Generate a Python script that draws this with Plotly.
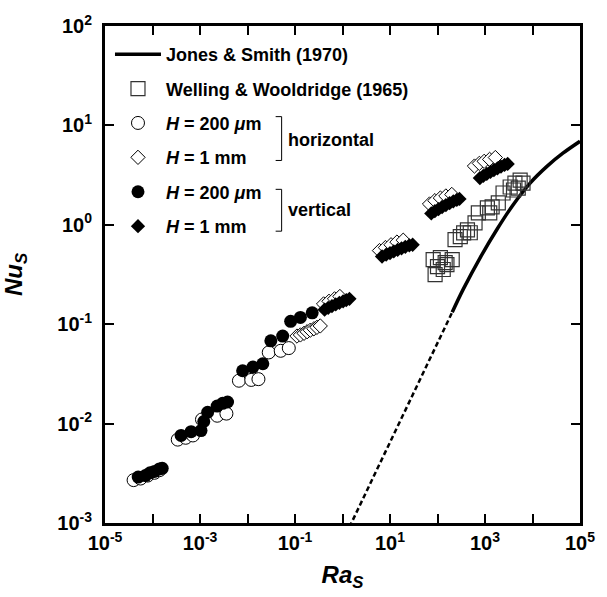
import plotly.graph_objects as go

# ---- data ----
# Jones & Smith (1970) correlation
js_ra = [204, 347, 794, 1820, 3890, 8913, 20417, 43652, 1e5]
js_nu = [0.132, 0.224, 0.468, 0.912, 1.585, 2.63, 3.89, 5.25, 6.92]
# dotted extrapolation of Jones & Smith
jsd_ra = [1.4, 204]
jsd_nu = [9.1e-4, 0.132]

# Welling & Wooldridge (1965)
ww_ra = [89, 81, 115, 145, 204, 132, 234, 302, 427, 490, 617, 724, 1122, 1413,
         1905, 2399, 3388, 4266, 5495, 6310, 5012, 158, 355, 1259, 3981, 100]
ww_nu = [0.316, 0.447, 0.468, 0.417, 0.447, 0.355, 0.708, 0.759, 0.891, 0.832,
         1.047, 1.318, 1.479, 1.514, 1.66, 2.09, 2.40, 2.63, 2.82, 2.63, 2.34,
         0.398, 0.83, 1.32, 2.24, 0.38]

# horizontal, H = 200 um (open circles)
h200_ra = [4.0e-5, 5.6e-5, 7.9e-5, 1.1e-4, 1.4e-4,
           3.4e-4, 5.0e-4, 7.1e-4, 1.1e-3, 2.3e-3, 3.6e-3,
           6.6e-3, 1.2e-2, 1.7e-2, 2.8e-2, 5.0e-2, 7.4e-2]
h200_nu = [2.7e-3, 2.8e-3, 3.0e-3, 3.2e-3, 3.4e-3,
           6.9e-3, 7.2e-3, 7.6e-3, 1.1e-2, 1.2e-2, 1.26e-2,
           2.7e-2, 2.75e-2, 2.8e-2, 5.2e-2, 5.4e-2, 5.75e-2]

# horizontal, H = 1 mm (open diamonds)
h1_ra = [0.11, 0.13, 0.155, 0.18, 0.21, 0.25, 0.29, 0.34,
         0.40, 0.52, 0.68, 0.88,
         6.0, 8.0, 10.5, 14, 19,
         68, 88, 115, 150, 200,
         600, 760, 960, 1250, 1650]
h1_nu = [0.076, 0.078, 0.081, 0.084, 0.087, 0.090, 0.093, 0.096,
         0.160, 0.170, 0.180, 0.190,
         0.55, 0.59, 0.63, 0.67, 0.70,
         1.62, 1.75, 1.86, 1.95, 2.02,
         3.9, 4.15, 4.35, 4.55, 4.75]

# vertical, H = 200 um (filled circles)
v200_ra = [5.0e-5, 7.1e-5, 8.9e-5, 1.1e-4, 1.4e-4, 1.6e-4,
           4.0e-4, 6.5e-4, 1.05e-3, 1.2e-3, 1.45e-3, 2.3e-3, 3.0e-3, 3.8e-3,
           7.9e-3, 1.3e-2, 2.1e-2, 3.1e-2, 5.5e-2, 8.1e-2, 0.13, 0.23]
v200_nu = [2.9e-3, 3.0e-3, 3.2e-3, 3.3e-3, 3.5e-3, 3.55e-3,
           7.6e-3, 8.3e-3, 8.5e-3, 1.05e-2, 1.3e-2, 1.5e-2, 1.6e-2, 1.65e-2,
           3.4e-2, 3.7e-2, 4.0e-2, 6.8e-2, 7.6e-2, 0.107, 0.117, 0.13]

# vertical, H = 1 mm (filled diamonds)
v1_ra = [0.42, 0.50, 0.60, 0.72, 0.86, 1.03, 1.2, 1.4,
         6.8, 8.3, 10, 12, 14.5, 17.5, 21, 25.5, 30,
         74, 88, 105, 125, 150, 180, 215, 255, 290,
         780, 920, 1090, 1300, 1540, 1830, 2170, 2580, 3000]
v1_nu = [0.140, 0.146, 0.152, 0.158, 0.164, 0.170, 0.175, 0.180,
         0.48, 0.50, 0.52, 0.54, 0.56, 0.58, 0.60, 0.62, 0.63,
         1.30, 1.37, 1.44, 1.51, 1.58, 1.65, 1.72, 1.78, 1.82,
         2.95, 3.10, 3.25, 3.40, 3.55, 3.70, 3.85, 4.00, 4.10]

x_tickvals = [1e-5, 1e-4, 1e-3, 1e-2, 1e-1, 1, 1e1, 1e2, 1e3, 1e4, 1e5]
x_ticktext = ["10<sup>-5</sup>", "", "10<sup>-3</sup>", "", "10<sup>-1</sup>", "",
              "10<sup>1</sup>", "", "10<sup>3</sup>", "", "10<sup>5</sup>"]
y_tickvals = [1e-3, 1e-2, 1e-1, 1, 1e1, 1e2]
y_ticktext = ["10<sup>-3</sup>", "10<sup>-2</sup>", "10<sup>-1</sup>",
              "10<sup>0</sup>", "10<sup>1</sup>", "10<sup>2</sup>"]

FONT = "Liberation Sans, Arial, sans-serif"

fig = go.Figure()

fig.add_trace(go.Scatter(x=js_ra, y=js_nu, mode="lines", line_shape="spline",
                         line=dict(color="black", width=3.5),
                         name="Jones &amp; Smith (1970)", legendgroup="a"))
fig.add_trace(go.Scatter(x=jsd_ra, y=jsd_nu, mode="lines",
                         line=dict(color="black", width=2.5, dash="5px,3px"),
                         showlegend=False))
fig.add_trace(go.Scatter(x=ww_ra, y=ww_nu, mode="markers",
                         marker=dict(symbol="square-open", size=14, color="#333333",
                                     line=dict(width=1.2, color="#333333")),
                         name="Welling &amp; Wooldridge (1965)", legendgroup="b"))
fig.add_trace(go.Scatter(x=h200_ra, y=h200_nu, mode="markers",
                         marker=dict(symbol="circle", size=13, color="white",
                                     line=dict(width=1, color="black")),
                         name="<i>H</i> = 200 <i>μ</i>m", legendgroup="c"))
fig.add_trace(go.Scatter(x=h1_ra, y=h1_nu, mode="markers",
                         marker=dict(symbol="diamond", size=11, color="white",
                                     line=dict(width=1, color="black")),
                         name="<i>H</i> = 1 mm", legendgroup="d"))
fig.add_trace(go.Scatter(x=v200_ra, y=v200_nu, mode="markers",
                         marker=dict(symbol="circle", size=13, color="black",
                                     line=dict(width=0)),
                         name="<i>H</i> = 200 <i>μ</i>m", legendgroup="e"))
fig.add_trace(go.Scatter(x=v1_ra, y=v1_nu, mode="markers",
                         marker=dict(symbol="diamond", size=11, color="black",
                                     line=dict(width=0)),
                         name="<i>H</i> = 1 mm", legendgroup="f"))

axis_common = dict(type="log", showgrid=False, zeroline=False,
                   showline=True, linecolor="black", linewidth=3, mirror="ticks",
                   ticks="inside", ticklen=9, tickwidth=2, tickcolor="black",
                   tickfont=dict(family=FONT, size=20, color="black", weight="bold"))

fig.update_xaxes(**axis_common, range=[-5, 5], tickmode="array",
                 tickvals=x_tickvals, ticktext=x_ticktext,
                 title=dict(text="<i>Ra</i><sub><i>S</i></sub>", standoff=14,
                            font=dict(family=FONT, size=24, color="black", weight="bold")))
fig.update_yaxes(**axis_common, range=[-3, 2], tickmode="array",
                 tickvals=y_tickvals, ticktext=y_ticktext, ticklabelstandoff=6,
                 title=dict(text="<i>Nu</i><sub><i>S</i></sub>", standoff=28,
                            font=dict(family=FONT, size=24, color="black", weight="bold")))

# bracket shapes for legend grouping
def px_x(p):
    return (p - 104) / 476.0

def px_y(p):
    return (525 - p) / 499.0

for top, bot in [(117, 161), (190, 232)]:
    fig.add_shape(type="path", xref="paper", yref="paper",
                  path=f"M{px_x(275)},{px_y(top)} L{px_x(281)},{px_y(top)} "
                       f"L{px_x(281)},{px_y(bot)} L{px_x(275)},{px_y(bot)}",
                  line=dict(color="black", width=1))

fig.add_annotation(x=px_x(285), y=px_y(140), xref="paper", yref="paper",
                   text="horizontal", showarrow=False, xanchor="left", yanchor="middle",
                   font=dict(family=FONT, size=18, color="black", weight="bold"))
fig.add_annotation(x=px_x(285), y=px_y(211), xref="paper", yref="paper",
                   text="vertical", showarrow=False, xanchor="left", yanchor="middle",
                   font=dict(family=FONT, size=18, color="black", weight="bold"))

fig.update_layout(
    width=607, height=597,
    margin=dict(l=104, r=27, t=26, b=72),
    plot_bgcolor="white", paper_bgcolor="white",
    showlegend=True,
    legend=dict(x=0.0105, y=0.98, xanchor="left", yanchor="top",
                bgcolor="rgba(0,0,0,0)", borderwidth=0, itemwidth=46,
                tracegroupgap=8, traceorder="grouped",
                font=dict(family=FONT, size=18, color="black", weight="bold")),
)

fig.write_html("out.html")
